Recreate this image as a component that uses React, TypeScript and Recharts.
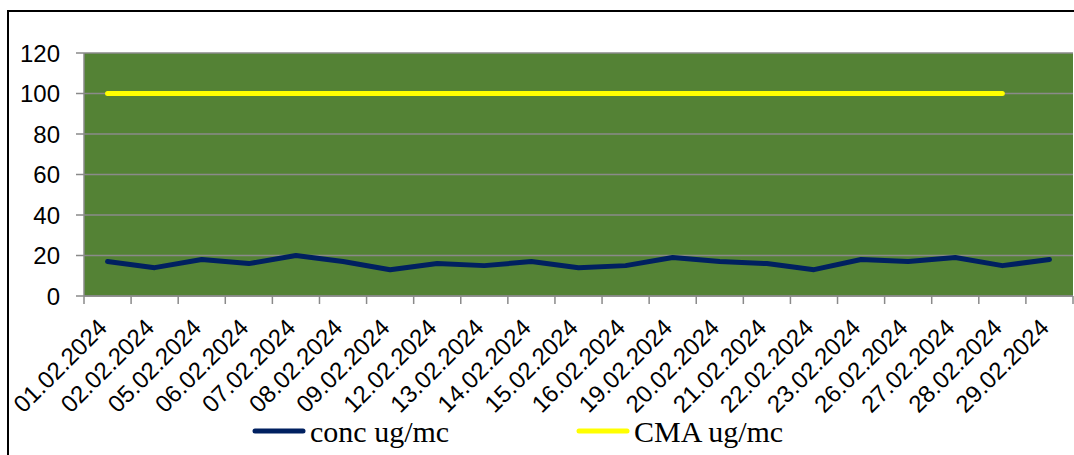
import React from 'react';
import { LineChart, Line, XAxis, YAxis, CartesianGrid, Legend } from 'recharts';

const categories = [
  '01.02.2024', '02.02.2024', '05.02.2024', '06.02.2024', '07.02.2024', '08.02.2024',
  '09.02.2024', '12.02.2024', '13.02.2024', '14.02.2024', '15.02.2024', '16.02.2024',
  '19.02.2024', '20.02.2024', '21.02.2024', '22.02.2024', '23.02.2024', '26.02.2024',
  '27.02.2024', '28.02.2024', '29.02.2024',
];
const concValues = [17, 14, 18, 16, 20, 17, 13, 16, 15, 17, 14, 15, 19, 17, 16, 13, 18, 17, 19, 15, 18];
const cmaValues: (number | null)[] = [
  100, 100, 100, 100, 100, 100, 100, 100, 100, 100,
  100, 100, 100, 100, 100, 100, 100, 100, 100, 100, null,
];
const yTicks = [0, 20, 40, 60, 80, 100, 120];
const seriesKeys = ['conc', 'cma'];
const seriesNames: Record<string, string> = { conc: 'conc ug/mc', cma: 'CMA ug/mc' };

const data = categories.map((date, i) => ({ date, conc: concValues[i], cma: cmaValues[i] }));

const W = 1074;
const H = 455;
const GRID = '#8a8a8a';
const TICK_SIZE = 8;
const TICK_MARGIN = 2;
const SANS = '"Liberation Sans", Arial, sans-serif';
const SERIF = '"Liberation Serif", "Times New Roman", serif';

const XTick = (props: any) => {
  const { x, y, payload, index, visibleTicksCount } = props;
  const half = payload?.offset ?? 0;
  const axisY = y - TICK_SIZE - TICK_MARGIN;
  const tx = x + 1;
  const ty = y + 23;
  return (
    <g>
      <line x1={x - half} x2={x - half} y1={axisY} y2={axisY + TICK_SIZE} stroke={GRID} strokeWidth={1.5} />
      {index === visibleTicksCount - 1 && (
        <line x1={x + half} x2={x + half} y1={axisY} y2={axisY + TICK_SIZE} stroke={GRID} strokeWidth={1.5} />
      )}
      <text
        x={tx}
        y={ty}
        transform={`rotate(-45, ${tx}, ${ty})`}
        textAnchor="end"
        fontSize={24}
        fontFamily={SANS}
        fill="#000"
      >
        {payload.value}
      </text>
    </g>
  );
};

const legendLeft = [253, 577];

const LegendContent = (props: any) => {
  const raw = props.payload || [];
  const payload = seriesKeys
    .map((k) => raw.find((p: any) => p.dataKey === k))
    .filter(Boolean);
  return (
    <svg width={W} height={40} style={{ display: 'block' }}>
      {payload.map((p: any, i: number) => (
        <g key={i}>
          <line
            x1={legendLeft[i] + 2}
            x2={legendLeft[i] + 50}
            y1={16}
            y2={16}
            stroke={p.color}
            strokeWidth={5}
            strokeLinecap="round"
          />
          <text x={legendLeft[i] + 57} y={27} fontSize={30} fontFamily={SERIF} fill="#000">
            {p.value}
          </text>
        </g>
      ))}
    </svg>
  );
};

export default function App() {
  return (
    <div style={{ position: 'absolute', left: 0, top: 0, width: W, height: H, overflow: 'hidden', background: '#fff' }}>
      <div
        style={{
          position: 'absolute',
          left: 7,
          top: 10,
          width: 1100,
          height: 480,
          border: '2px solid #000',
          boxSizing: 'border-box',
        }}
      />
      <div style={{ position: 'absolute', left: 0, top: 0 }}>
        <LineChart width={W} height={H} data={data} margin={{ top: 53, right: 1, bottom: 0, left: 0 }}>
          <CartesianGrid vertical={false} stroke={GRID} strokeWidth={1.5} fill="#548235" fillOpacity={1} />
          <XAxis
            dataKey="date"
            scale="band"
            interval={0}
            height={119}
            axisLine={{ stroke: GRID, strokeWidth: 1.5 }}
            tickLine={false}
            tickSize={TICK_SIZE}
            tickMargin={TICK_MARGIN}
            tick={<XTick />}
          />
          <YAxis
            domain={[0, 120]}
            ticks={yTicks}
            width={84}
            axisLine={{ stroke: GRID, strokeWidth: 1.5 }}
            tickLine={{ stroke: GRID, strokeWidth: 1.5 }}
            tickSize={8}
            tickMargin={16}
            tick={{ fontSize: 24, fontFamily: SANS, fill: '#000' }}
          />
          <Legend verticalAlign="bottom" content={<LegendContent />} wrapperStyle={{ left: 0, width: W }} />
          <Line
            type="linear"
            dataKey="conc"
            name={seriesNames.conc}
            stroke="#002060"
            strokeWidth={5}
            strokeLinecap="round"
            strokeLinejoin="round"
            dot={false}
            activeDot={false}
            isAnimationActive={false}
          />
          <Line
            type="linear"
            dataKey="cma"
            name={seriesNames.cma}
            stroke="#FFFF00"
            strokeWidth={5}
            strokeLinecap="round"
            strokeLinejoin="round"
            dot={false}
            activeDot={false}
            isAnimationActive={false}
          />
        </LineChart>
      </div>
    </div>
  );
}
